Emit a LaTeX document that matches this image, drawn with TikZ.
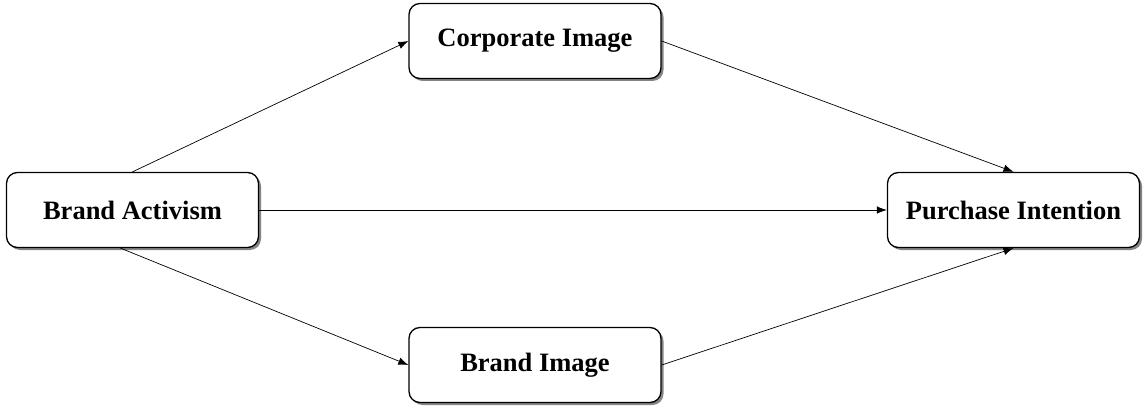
\documentclass[tikz,border=0pt]{standalone}
\usepackage{fontspec}
\setmainfont{Liberation Serif}
\usetikzlibrary{arrows.meta,shadows}
\begin{document}
\begin{tikzpicture}[x=1pt,y=1pt,
  box/.style={draw=black, line width=1.3pt, rounded corners=11pt, fill=white,
    minimum width=252pt, minimum height=75pt, inner sep=0pt,
    font=\fontsize{26.5}{31}\selectfont\bfseries,
    drop shadow={shadow xshift=2.5pt, shadow yshift=-2.5pt, fill=black!60, opacity=0.8}},
  conn/.style={line width=0.7pt, -{Latex[length=10pt,width=7.5pt]}}]
\useasboundingbox (0,0) rectangle (1144,405);
\node[box] (ba) at (132.5,195) {Brand Activism};
\node[box] (ci) at (535,364) {Corporate Image};
\node[box] (pi) at (1013.5,195) {Purchase Intention};
\node[box] (bi) at (535,40) {Brand Image};
\draw[conn] (ba.north) -- (ci.west);
\draw[conn] (ba.east) -- (pi.west);
\draw[conn] ([xshift=-12pt]ba.south) -- (bi.west);
\draw[conn] (ci.east) -- (pi.north);
\draw[conn] (bi.east) -- (pi.south);
\end{tikzpicture}
\end{document}
